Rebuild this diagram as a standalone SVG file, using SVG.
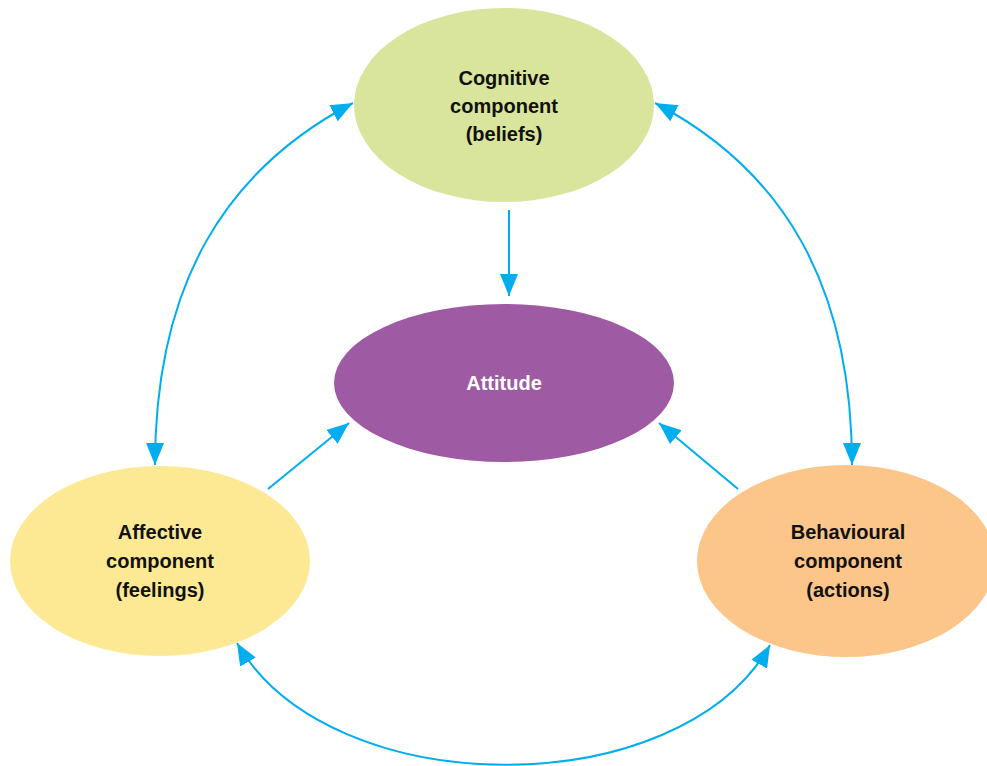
<svg xmlns="http://www.w3.org/2000/svg" width="987" height="766" viewBox="0 0 987 766">
<style>
.lbl{font-family:"Liberation Sans",Arial,sans-serif;font-weight:bold;font-size:20px;text-anchor:middle;fill:#111}
.w{fill:#fff}
.c{fill:none;stroke:#00aeef;stroke-width:2}
</style>
<defs>
<marker id="ah" markerUnits="userSpaceOnUse" markerWidth="24" markerHeight="20" refX="22" refY="9" orient="auto-start-reverse" viewBox="0 0 24 18">
<path d="M0,0 L22,9 L0,18 Z" fill="#00aeef"/>
</marker>
</defs>
<rect width="987" height="766" fill="#fff"/>
<g id="cognitive">
<ellipse cx="504" cy="105" rx="150" ry="97" fill="#d9e59c"/>
<text class="lbl" x="504" y="85">Cognitive</text>
<text class="lbl" x="504" y="113">component</text>
<text class="lbl" x="504" y="141">(beliefs)</text>
</g>
<g id="attitude">
<ellipse cx="504" cy="383" rx="170" ry="79" fill="#9e5ba4"/>
<text class="lbl w" x="504" y="390">Attitude</text>
</g>
<g id="affective">
<ellipse cx="160" cy="561" rx="150" ry="95" fill="#fde994"/>
<text class="lbl" x="160" y="539">Affective</text>
<text class="lbl" x="160" y="568">component</text>
<text class="lbl" x="160" y="597">(feelings)</text>
</g>
<g id="behavioural">
<ellipse cx="846" cy="561" rx="149" ry="96" fill="#fcc589"/>
<text class="lbl" x="848" y="539">Behavioural</text>
<text class="lbl" x="848" y="568">component</text>
<text class="lbl" x="848" y="597">(actions)</text>
</g>
<g id="connectors">
<path class="c" d="M509,210 L509,296" marker-end="url(#ah)"/>
<path class="c" d="M268,489 L349,423" marker-end="url(#ah)"/>
<path class="c" d="M738,489 L659,423" marker-end="url(#ah)"/>
<path class="c" d="M353,103 C225,170 155,285 155,465" marker-start="url(#ah)" marker-end="url(#ah)"/>
<path class="c" d="M655,103 C783,170 852,285 852,465" marker-start="url(#ah)" marker-end="url(#ah)"/>
<path class="c" d="M237,643 C330,805 680,805 770,645" marker-start="url(#ah)" marker-end="url(#ah)"/>
</g>
</svg>
